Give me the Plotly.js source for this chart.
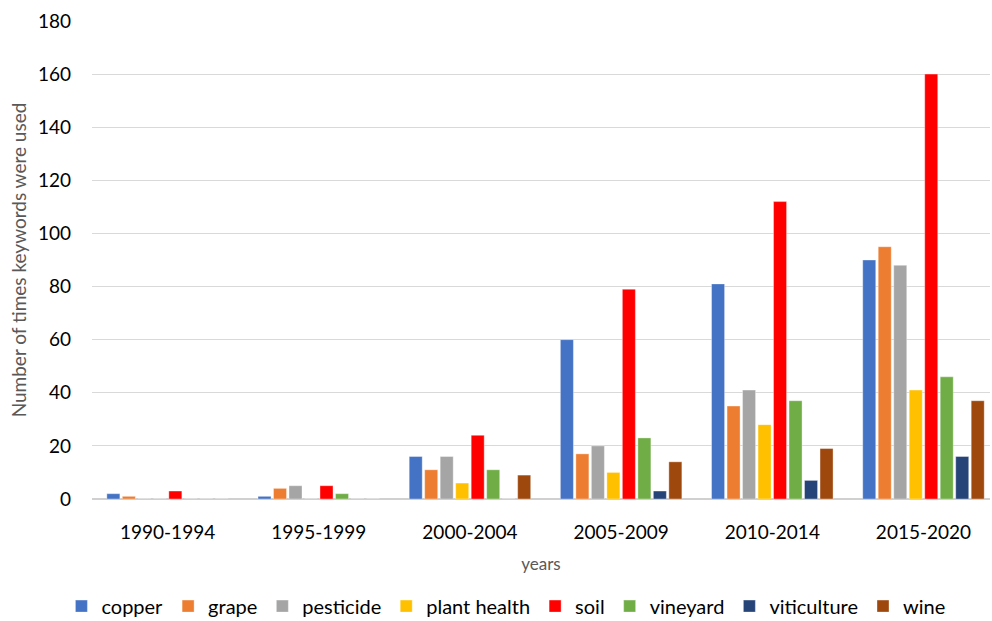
<!DOCTYPE html>
<html>
<head>
<meta charset="utf-8">
<script src="https://cdn.plot.ly/plotly-3.0.1.min.js"></script>
<style>html,body{margin:0;padding:0;background:#fff;}#chart{width:992px;height:621px;}</style>
</head>
<body>
<div id="chart"></div>
<script>
const categories = ["1990-1994", "1995-1999", "2000-2004", "2005-2009", "2010-2014", "2015-2020"];
const copper = [2, 1, 16, 60, 81, 90];
const grape = [1, 4, 11, 17, 35, 95];
const pesticide = [0, 5, 16, 20, 41, 88];
const plantHealth = [0, 0, 6, 10, 28, 41];
const soil = [3, 5, 24, 79, 112, 160];
const vineyard = [0, 2, 11, 23, 37, 46];
const viticulture = [0, 0, 0, 3, 7, 16];
const wine = [0, 0, 9, 14, 19, 37];
const yTicks = [0, 20, 40, 60, 80, 100, 120, 140, 160, 180];

const series = [
  ["copper", copper, "#4472C4"],
  ["grape", grape, "#ED7D31"],
  ["pesticide", pesticide, "#A5A5A5"],
  ["plant health", plantHealth, "#FFC000"],
  ["soil", soil, "#FF0000"],
  ["vineyard", vineyard, "#70AD47"],
  ["viticulture", viticulture, "#264478"],
  ["wine", wine, "#9E480E"]
];

const font = "Lato, 'Open Sans', sans-serif";
const traces = series.map(([name, vals, color]) => ({
  type: "bar", name: name, x: categories, y: vals,
  marker: {color: color, line: {color: "rgba(255,255,255,0.6)", width: 0.6}}
}));

const layout = {
  width: 992, height: 621,
  margin: {l: 92, r: 2, t: 21, b: 122, autoexpand: false},
  barmode: "group", bargap: 0.18, bargroupgap: 0.16,
  paper_bgcolor: "#fff", plot_bgcolor: "#fff",
  font: {family: font, color: "#000"},
  showlegend: true,
  legend: {orientation: "h", x: 0.51, xref: "container", xanchor: "center",
           y: 0.024, yref: "container", yanchor: "middle",
           font: {family: font, size: 20, color: "#000"}, itemwidth: 30, tracegroupgap: 0},
  xaxis: {
    type: "category", range: [-0.5, 5.44], showgrid: false, zeroline: false, ticks: "",
    tickfont: {family: font, size: 19, color: "#000"},
    ticklabelstandoff: 20,
    title: {text: "years", font: {family: font, size: 17, color: "#595959"}, standoff: 16},
    showline: false
  },
  yaxis: {
    range: [0, 180], tickvals: yTicks, ticktext: yTicks.map(String),
    showgrid: true, gridcolor: "#D9D9D9", gridwidth: 1.3,
    zeroline: true, zerolinecolor: "#D0D0D0", zerolinewidth: 1.5,
    ticks: "", tickfont: {family: font, size: 19, color: "#000"},
    ticklabelstandoff: 20,
    title: {text: "Number of times keywords were used", font: {family: font, size: 19, color: "#595959"}, standoff: 6}
  }
};

Plotly.newPlot("chart", traces, layout, {displayModeBar: false, responsive: false});
</script>
</body>
</html>
